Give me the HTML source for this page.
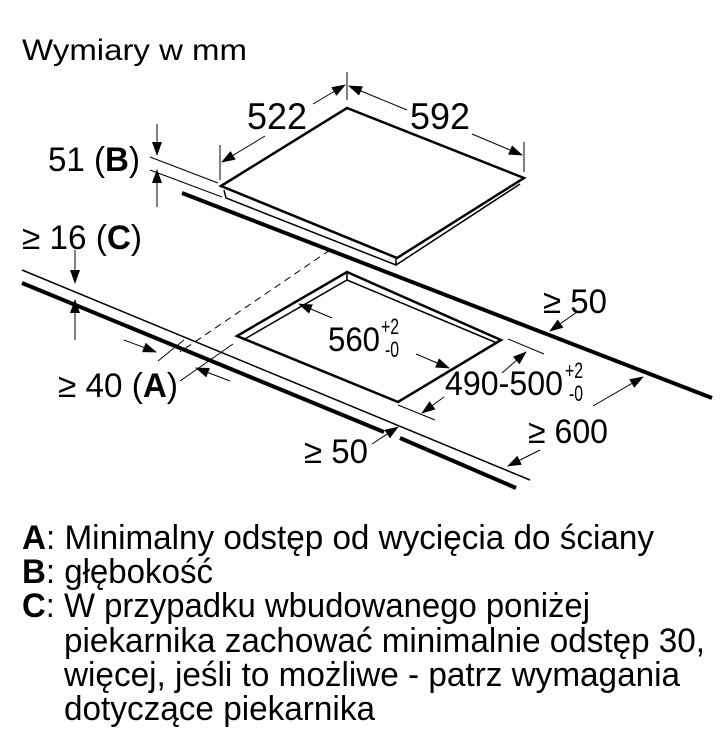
<!DOCTYPE html>
<html><head><meta charset="utf-8"><style>
html,body{margin:0;padding:0;background:#fff;}
svg{display:block;font-family:"Liberation Sans",sans-serif;}
</style></head><body>
<svg width="728" height="749" viewBox="0 0 728 749" xmlns="http://www.w3.org/2000/svg">
<defs>
<marker id="ar" markerWidth="14" markerHeight="10" refX="13" refY="5" orient="auto" markerUnits="userSpaceOnUse">
<path d="M0,0 L14,5 L0,10 Z" fill="#000"/></marker>
</defs>
<g fill="#000">
<text x="22" y="60" font-size="30" textLength="225" lengthAdjust="spacingAndGlyphs">Wymiary w mm</text>
<text x="247" y="129" font-size="37" textLength="60" lengthAdjust="spacingAndGlyphs">522</text>
<text x="410" y="129" font-size="37" textLength="60" lengthAdjust="spacingAndGlyphs">592</text>
<text x="48" y="171" font-size="34" textLength="92" lengthAdjust="spacingAndGlyphs">51 (<tspan font-weight="bold">B</tspan>)</text>
<text x="22" y="249" font-size="34" textLength="120" lengthAdjust="spacingAndGlyphs">≥ 16 (<tspan font-weight="bold">C</tspan>)</text>
<text x="543" y="313" font-size="34" textLength="64" lengthAdjust="spacingAndGlyphs">≥ 50</text>
<text x="328" y="351" font-size="34" textLength="52" lengthAdjust="spacingAndGlyphs">560</text>
<text x="381" y="334" font-size="22" textLength="18" lengthAdjust="spacingAndGlyphs">+2</text>
<text x="385" y="357" font-size="22" textLength="14" lengthAdjust="spacingAndGlyphs">-0</text>
<text x="445" y="395" font-size="34" textLength="118" lengthAdjust="spacingAndGlyphs">490-500</text>
<text x="565" y="378" font-size="22" textLength="18" lengthAdjust="spacingAndGlyphs">+2</text>
<text x="569" y="401" font-size="22" textLength="14" lengthAdjust="spacingAndGlyphs">-0</text>
<text x="58" y="397" font-size="34" textLength="120" lengthAdjust="spacingAndGlyphs">≥ 40 (<tspan font-weight="bold">A</tspan>)</text>
<text x="528" y="443" font-size="34" textLength="80" lengthAdjust="spacingAndGlyphs">≥ 600</text>
<text x="304" y="463" font-size="34" textLength="64" lengthAdjust="spacingAndGlyphs">≥ 50</text>
</g>
<g fill="none" stroke="#000">
<line x1="182" y1="193" x2="712" y2="398" stroke-width="4"/>
<path d="M221,186 L347,108 L524,178 L397,258 Z" stroke-width="2.5" fill="#fff"/>
<path d="M224,190 L226,198 L396,265 L396,258 M520,184 L396,265" stroke-width="1.5"/>
<line x1="150" y1="157" x2="218" y2="183" stroke-width="1"/>
<line x1="150" y1="170" x2="222" y2="197" stroke-width="1"/>
<line x1="157" y1="124" x2="157" y2="155" stroke-width="1" marker-end="url(#ar)"/>
<line x1="157" y1="207" x2="157" y2="170" stroke-width="1" marker-end="url(#ar)"/>
<line x1="347" y1="72" x2="347" y2="100" stroke-width="1"/>
<line x1="220" y1="145" x2="220" y2="180" stroke-width="1"/>
<line x1="524" y1="142" x2="524" y2="172" stroke-width="1"/>
<line x1="313" y1="104" x2="345" y2="85" stroke-width="1" marker-end="url(#ar)"/>
<line x1="265" y1="136" x2="222" y2="162" stroke-width="1" marker-end="url(#ar)"/>
<line x1="407" y1="110" x2="349" y2="86" stroke-width="1" marker-end="url(#ar)"/>
<line x1="472" y1="134" x2="522" y2="155" stroke-width="1" marker-end="url(#ar)"/>
<line x1="330" y1="250" x2="180" y2="352" stroke-width="1" stroke-dasharray="7,5"/>
<line x1="22" y1="270" x2="530" y2="480" stroke-width="1.5"/>
<path d="M22,283 L384,432 M400,438 L516,488" stroke-width="4"/>
<line x1="75" y1="250" x2="75" y2="283" stroke-width="1" marker-end="url(#ar)"/>
<line x1="75" y1="340" x2="75" y2="300" stroke-width="1" marker-end="url(#ar)"/>
<path d="M237,336 L347,272 L501,340 L398,402 Z" stroke-width="2.5"/>
<path d="M243,340 L347,280 L497,343" stroke-width="1.5"/>
<line x1="347" y1="272" x2="347" y2="280" stroke-width="1.5"/>
<line x1="332" y1="318" x2="299" y2="304" stroke-width="1" marker-end="url(#ar)"/>
<line x1="416" y1="354" x2="449" y2="368" stroke-width="1" marker-end="url(#ar)"/>
<line x1="508" y1="339" x2="544" y2="354" stroke-width="1"/>
<line x1="398" y1="405" x2="435" y2="420" stroke-width="1"/>
<line x1="502" y1="373" x2="526" y2="352" stroke-width="1" marker-end="url(#ar)"/>
<line x1="444" y1="397" x2="422" y2="413" stroke-width="1" marker-end="url(#ar)"/>
<line x1="577" y1="312" x2="550" y2="331" stroke-width="1" marker-end="url(#ar)"/>
<line x1="593" y1="406" x2="643" y2="377" stroke-width="1" marker-end="url(#ar)"/>
<line x1="540" y1="450" x2="508" y2="466" stroke-width="1" marker-end="url(#ar)"/>
<line x1="372" y1="444" x2="398" y2="427" stroke-width="1" marker-end="url(#ar)"/>
<line x1="158" y1="361" x2="184" y2="340" stroke-width="1"/>
<line x1="180" y1="381" x2="233" y2="344" stroke-width="1"/>
<line x1="124" y1="340" x2="156" y2="352" stroke-width="1" marker-end="url(#ar)"/>
<line x1="230" y1="381" x2="196" y2="368" stroke-width="1" marker-end="url(#ar)"/>
</g>
<g fill="#000" font-size="34">
<text x="22" y="549" textLength="632" lengthAdjust="spacingAndGlyphs"><tspan font-weight="bold">A</tspan>: Minimalny odstęp od wycięcia do ściany</text>
<text x="22" y="583" textLength="191" lengthAdjust="spacingAndGlyphs"><tspan font-weight="bold">B</tspan>: głębokość</text>
<text x="22" y="617" textLength="568" lengthAdjust="spacingAndGlyphs"><tspan font-weight="bold">C</tspan>: W przypadku wbudowanego poniżej</text>
<text x="64" y="652" textLength="641" lengthAdjust="spacingAndGlyphs">piekarnika zachować minimalnie odstęp 30,</text>
<text x="64" y="686" textLength="616" lengthAdjust="spacingAndGlyphs">więcej, jeśli to możliwe - patrz wymagania</text>
<text x="64" y="720" textLength="311" lengthAdjust="spacingAndGlyphs">dotyczące piekarnika</text>
</g>
</svg>
</body></html>
